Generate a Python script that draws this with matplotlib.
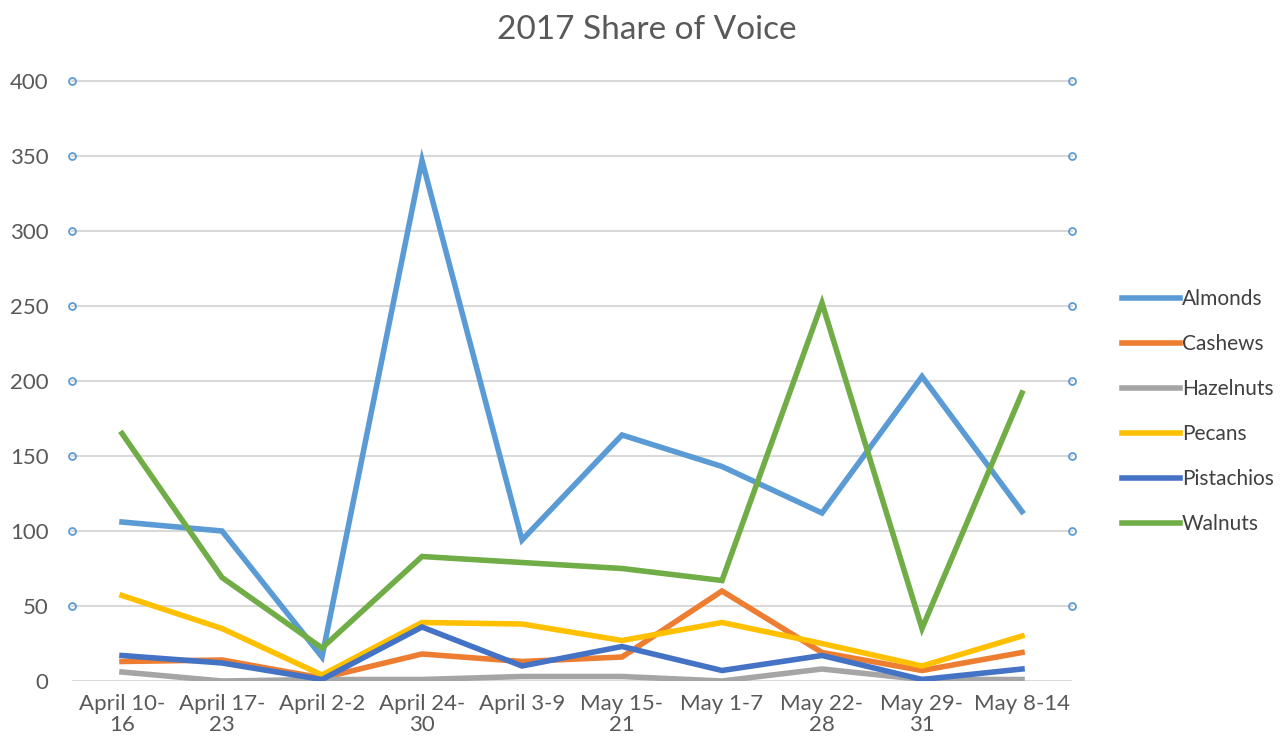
import numpy as np
import matplotlib.pyplot as plt

plt.rcParams['font.family'] = ['Lato', 'DejaVu Sans']

weeks = ["April 10-\n16", "April 17-\n23", "April 2-2", "April 24-\n30", "April 3-9",
         "May 15-\n21", "May 1-7", "May 22-\n28", "May 29-\n31", "May 8-14"]

almonds = [106, 100, 16, 347, 94, 164, 143, 112, 203, 113]
cashews = [13, 14, 2, 18, 13, 16, 60, 19, 7, 19]
hazelnuts = [6, 0, 1, 1, 3, 3, 0, 8, 1, 1]
pecans = [57, 35, 4, 39, 38, 27, 39, 25, 10, 30]
pistachios = [17, 12, 1, 36, 10, 23, 7, 17, 1, 8]
walnuts = [165, 69, 22, 83, 79, 75, 67, 252, 35, 192]

series = [("Almonds", almonds, "#5B9BD5"),
          ("Cashews", cashews, "#ED7D31"),
          ("Hazelnuts", hazelnuts, "#A5A5A5"),
          ("Pecans", pecans, "#FFC000"),
          ("Pistachios", pistachios, "#4472C4"),
          ("Walnuts", walnuts, "#70AD47")]

fig = plt.figure(figsize=(12.81, 7.53), dpi=100)
ax = fig.add_axes([72 / 1281, 1 - 681 / 753, 1000 / 1281, 600 / 753])

x = np.arange(len(weeks))
yticks = np.arange(0, 401, 50)

# gridlines with the little circles at both ends
for y in yticks:
    if y == 0:
        ax.plot([0, 1], [y, y], transform=ax.get_yaxis_transform(), color="#D9D9D9",
                lw=1.5, zorder=1)
    else:
        ax.plot([0, 1], [y, y], transform=ax.get_yaxis_transform(), color="#D9D9D9",
                lw=1.5, zorder=1, marker="o", ms=5, mfc="none", mec="#5B9BD5", mew=1.3,
                clip_on=False)

for name, vals, col in series:
    ax.plot(x, vals, color=col, lw=4, label=name, zorder=3, solid_joinstyle="miter")

ax.set_xlim(-0.5, len(weeks) - 0.5)
ax.set_ylim(0, 400)
ax.set_yticks(yticks)
ax.set_xticks(x)
ax.set_xticklabels(weeks, linespacing=1.1)
ax.tick_params(length=0, labelsize=16, colors="#595959")
ax.tick_params(axis="x", pad=9)
ax.tick_params(axis="y", pad=17)
for s in ax.spines.values():
    s.set_visible(False)

fig.suptitle("2017 Share of Voice", fontsize=24, color="#595959", x=0.505, y=0.98)

fig.legend(loc="center left", bbox_to_anchor=(1103 / 1281, 1 - 412 / 753), frameon=False,
           fontsize=15, handlelength=2.8, handletextpad=0.1, labelspacing=1.2,
           labelcolor="#404040")

fig.savefig("out.png", dpi=100)
